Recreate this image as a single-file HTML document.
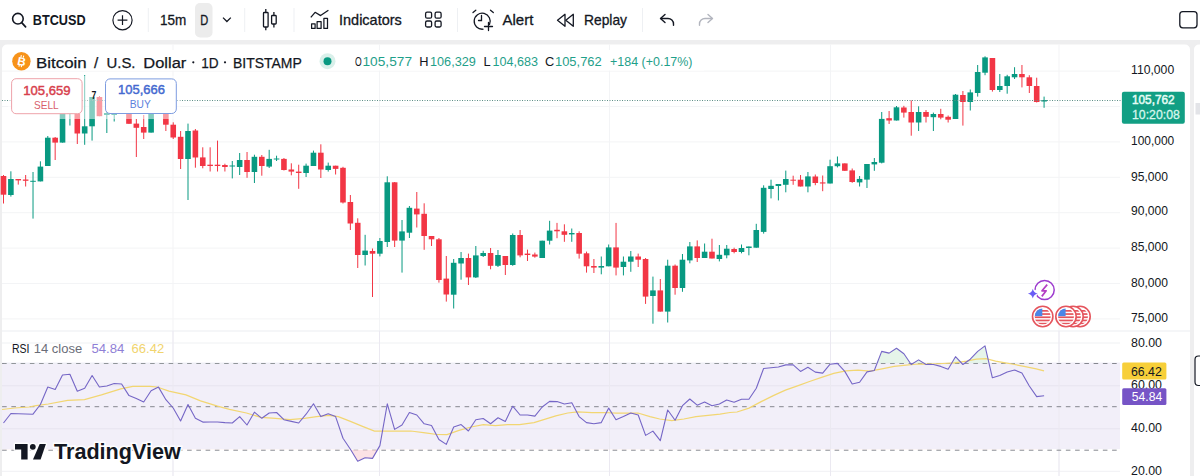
<!DOCTYPE html><html><head><meta charset="utf-8"><style>
html,body{margin:0;padding:0;width:1200px;height:476px;overflow:hidden;background:#fff}
svg{display:block;font-family:'Liberation Sans', sans-serif}
</style></head><body>
<svg width="1200" height="476" viewBox="0 0 1200 476">
<rect x="0" y="0" width="1200" height="476" fill="#eeeeef"/>
<rect x="0" y="0" width="1200" height="40" fill="#ffffff"/>
<rect x="2" y="44.5" width="1188" height="440" rx="5" fill="#ffffff"/>
<rect x="1194" y="44.5" width="20" height="440" rx="5" fill="#ffffff"/>
<circle cx="17.9" cy="18.7" r="5.3" fill="none" stroke="#131722" stroke-width="1.6"/>
<line x1="21.7" y1="22.6" x2="25.6" y2="26.8" stroke="#131722" stroke-width="1.7" stroke-linecap="round"/>
<text x="32.8" y="24.7" font-size="14.4" font-weight="bold" fill="#131722" textLength="52.8" lengthAdjust="spacingAndGlyphs" >BTCUSD</text>
<circle cx="122.5" cy="20.2" r="9.6" fill="none" stroke="#131722" stroke-width="1.15"/>
<path d="M122.5 15.3v9.8M117.6 20.2h9.8" stroke="#131722" stroke-width="1.2"/>
<rect x="147.8" y="8" width="1" height="24" fill="#eef0f3"/>
<rect x="244.2" y="8" width="1" height="24" fill="#eef0f3"/>
<rect x="293.5" y="8" width="1" height="24" fill="#eef0f3"/>
<rect x="457.0" y="8" width="1" height="24" fill="#eef0f3"/>
<rect x="642.0" y="8" width="1" height="24" fill="#eef0f3"/>
<text x="160" y="25" font-size="14.4" font-weight="normal" fill="#131722" textLength="26.3" lengthAdjust="spacingAndGlyphs" stroke="#131722" stroke-width="0.3">15m</text>
<rect x="195" y="3" width="17.5" height="34.5" rx="5" fill="#ececec"/>
<text x="200.3" y="25" font-size="14.4" font-weight="normal" fill="#131722" textLength="8.0" lengthAdjust="spacingAndGlyphs" stroke="#131722" stroke-width="0.3">D</text>
<path d="M223 17.6l3.9 3.9 3.9-3.9" fill="none" stroke="#131722" stroke-width="1.3"/>
<g fill="none" stroke="#131722" stroke-width="1.3"><rect x="263.5" y="12.5" width="4.6" height="14.5" rx="0.8"/><path d="M265.8 9v3.5M265.8 27v3.3"/><rect x="271.6" y="15.5" width="4.6" height="8.5" rx="0.8"/><path d="M273.9 12v3.5M273.9 24v3.5"/></g>
<g fill="none" stroke="#131722" stroke-width="1.25" stroke-linejoin="round"><path d="M310.8 17.4L315.1 12.3L320.6 15.6L328.4 10.3"/><path d="M311.6 28.4v-4.6h3.5v4.6zM317.1 28.4v-6.9h4v6.9zM323.9 28.4v-10.1h3.6v10.1z"/></g>
<text x="339" y="24.7" font-size="14.6" font-weight="normal" fill="#131722" textLength="62.8" lengthAdjust="spacingAndGlyphs" stroke="#131722" stroke-width="0.3">Indicators</text>
<g fill="none" stroke="#131722" stroke-width="1.3"><rect x="425.6" y="12.2" width="6" height="6" rx="1.5"/><rect x="435.1" y="12.2" width="6" height="6" rx="1.5"/><rect x="425.6" y="21" width="6" height="6" rx="1.5"/><rect x="435.1" y="21" width="6" height="6" rx="1.5"/></g>
<g fill="none" stroke="#131722" stroke-width="1.3" stroke-linecap="round"><path d="M489.5 24.5A8 8 0 1 0 483 29.2"/><path d="M481.5 15.5v5h-3"/><path d="M473 12.5l2.8-2.3M490.5 10.2l2.8 2.3"/><path d="M488.5 22.5v8M484.5 26.5h8"/></g>
<text x="502.5" y="25" font-size="14.6" font-weight="normal" fill="#131722" textLength="30.8" lengthAdjust="spacingAndGlyphs" stroke="#131722" stroke-width="0.3">Alert</text>
<g fill="none" stroke="#131722" stroke-width="1.3" stroke-linejoin="round"><path d="M565 14.3v12l-7.5-6z"/><path d="M573.3 14.3v12l-7.5-6z"/></g>
<text x="584" y="25" font-size="14.6" font-weight="normal" fill="#131722" textLength="43.0" lengthAdjust="spacingAndGlyphs" stroke="#131722" stroke-width="0.3">Replay</text>
<g fill="none" stroke-width="1.4" stroke-linecap="round" stroke-linejoin="round"><path d="M665 14.5l-4.5 4 4.5 4" stroke="#131722"/><path d="M661 18.5h7a5.5 5.5 0 0 1 5.5 5.5v1.3" stroke="#131722"/><path d="M708 14.5l4.5 4-4.5 4" stroke="#b2b5be"/><path d="M712 18.5h-7a5.5 5.5 0 0 0 -5.5 5.5v1.3" stroke="#b2b5be"/></g>
<rect x="1179.8" y="11.6" width="17.2" height="16.2" rx="3" fill="none" stroke="#131722" stroke-width="1.3"/>
<g>
<rect x="2" y="70.6" width="1118" height="1" fill="#f3f4f6"/>
<rect x="2" y="106.0" width="1118" height="1" fill="#f3f4f6"/>
<rect x="2" y="141.4" width="1118" height="1" fill="#f3f4f6"/>
<rect x="2" y="176.8" width="1118" height="1" fill="#f3f4f6"/>
<rect x="2" y="212.2" width="1118" height="1" fill="#f3f4f6"/>
<rect x="2" y="247.6" width="1118" height="1" fill="#f3f4f6"/>
<rect x="2" y="283.0" width="1118" height="1" fill="#f3f4f6"/>
<rect x="2" y="318.4" width="1118" height="1" fill="#f3f4f6"/>
<rect x="172.5" y="44.5" width="1" height="432" fill="#f3f4f6"/>
<rect x="379" y="44.5" width="1" height="432" fill="#f3f4f6"/>
<rect x="609" y="44.5" width="1" height="432" fill="#f3f4f6"/>
<rect x="830" y="44.5" width="1" height="432" fill="#f3f4f6"/>
<rect x="1058.5" y="44.5" width="1" height="432" fill="#f3f4f6"/>
<rect x="3.00" y="175.0" width="1" height="28.5" fill="#f23645"/>
<rect x="0.70" y="176.0" width="5.6" height="18.7" fill="#f23645"/>
<rect x="10.38" y="171.3" width="1" height="25.3" fill="#089981"/>
<rect x="8.08" y="179.0" width="5.6" height="16.0" fill="#089981"/>
<rect x="17.76" y="179.0" width="1" height="5.6" fill="#f23645"/>
<rect x="15.46" y="179.0" width="5.6" height="1.4" fill="#f23645"/>
<rect x="25.14" y="175.0" width="1" height="11.5" fill="#f23645"/>
<rect x="22.84" y="179.5" width="5.6" height="1.3" fill="#f23645"/>
<rect x="32.52" y="172.0" width="1" height="46.6" fill="#089981"/>
<rect x="30.22" y="180.8" width="5.6" height="1.0" fill="#089981"/>
<rect x="39.90" y="161.3" width="1" height="20.1" fill="#089981"/>
<rect x="37.60" y="166.6" width="5.6" height="14.8" fill="#089981"/>
<rect x="47.28" y="136.0" width="1" height="30.0" fill="#089981"/>
<rect x="44.98" y="137.7" width="5.6" height="28.3" fill="#089981"/>
<rect x="54.66" y="137.0" width="1" height="23.0" fill="#f23645"/>
<rect x="52.36" y="137.7" width="5.6" height="4.9" fill="#f23645"/>
<rect x="62.04" y="110.0" width="1" height="32.6" fill="#089981"/>
<rect x="59.74" y="112.0" width="5.6" height="30.6" fill="#089981"/>
<rect x="69.42" y="106.0" width="1" height="19.5" fill="#089981"/>
<rect x="67.12" y="108.0" width="5.6" height="6.0" fill="#089981"/>
<rect x="76.80" y="110.0" width="1" height="34.0" fill="#f23645"/>
<rect x="74.50" y="112.0" width="5.6" height="21.5" fill="#f23645"/>
<rect x="84.18" y="75.0" width="1" height="69.8" fill="#089981"/>
<rect x="81.88" y="126.3" width="5.6" height="7.2" fill="#089981"/>
<rect x="91.56" y="97.0" width="1" height="43.6" fill="#089981"/>
<rect x="89.26" y="97.0" width="5.6" height="29.3" fill="#089981"/>
<rect x="98.94" y="96.0" width="1" height="20.2" fill="#f23645"/>
<rect x="96.64" y="97.0" width="5.6" height="19.2" fill="#f23645"/>
<rect x="106.32" y="110.0" width="1" height="23.0" fill="#089981"/>
<rect x="104.02" y="113.0" width="5.6" height="2.0" fill="#089981"/>
<rect x="113.70" y="112.0" width="1" height="9.5" fill="#089981"/>
<rect x="111.40" y="113.0" width="5.6" height="2.0" fill="#089981"/>
<rect x="121.08" y="102.0" width="1" height="10.0" fill="#f23645"/>
<rect x="118.78" y="104.0" width="5.6" height="6.0" fill="#f23645"/>
<rect x="128.46" y="110.0" width="1" height="13.8" fill="#f23645"/>
<rect x="126.16" y="112.0" width="5.6" height="11.8" fill="#f23645"/>
<rect x="135.84" y="119.0" width="1" height="38.0" fill="#f23645"/>
<rect x="133.54" y="123.6" width="5.6" height="4.2" fill="#f23645"/>
<rect x="143.22" y="115.0" width="1" height="24.0" fill="#f23645"/>
<rect x="140.92" y="127.0" width="5.6" height="5.6" fill="#f23645"/>
<rect x="150.60" y="110.0" width="1" height="22.6" fill="#089981"/>
<rect x="148.30" y="112.0" width="5.6" height="20.6" fill="#089981"/>
<rect x="157.98" y="106.0" width="1" height="8.0" fill="#089981"/>
<rect x="155.68" y="108.0" width="5.6" height="4.0" fill="#089981"/>
<rect x="165.36" y="111.0" width="1" height="20.0" fill="#f23645"/>
<rect x="163.06" y="113.0" width="5.6" height="11.7" fill="#f23645"/>
<rect x="172.74" y="122.3" width="1" height="16.7" fill="#f23645"/>
<rect x="170.44" y="124.7" width="5.6" height="12.8" fill="#f23645"/>
<rect x="180.12" y="131.0" width="1" height="38.0" fill="#f23645"/>
<rect x="177.82" y="136.8" width="5.6" height="22.2" fill="#f23645"/>
<rect x="187.50" y="123.6" width="1" height="76.4" fill="#089981"/>
<rect x="185.20" y="131.0" width="5.6" height="28.0" fill="#089981"/>
<rect x="194.88" y="129.0" width="1" height="38.7" fill="#f23645"/>
<rect x="192.58" y="130.5" width="5.6" height="27.0" fill="#f23645"/>
<rect x="202.26" y="147.3" width="1" height="21.0" fill="#f23645"/>
<rect x="199.96" y="157.4" width="5.6" height="8.6" fill="#f23645"/>
<rect x="209.64" y="147.3" width="1" height="24.2" fill="#f23645"/>
<rect x="207.34" y="164.7" width="5.6" height="1.3" fill="#f23645"/>
<rect x="217.02" y="140.6" width="1" height="30.9" fill="#f23645"/>
<rect x="214.72" y="164.7" width="5.6" height="1.3" fill="#f23645"/>
<rect x="224.40" y="163.7" width="1" height="7.8" fill="#f23645"/>
<rect x="222.10" y="165.0" width="5.6" height="2.0" fill="#f23645"/>
<rect x="231.78" y="161.0" width="1" height="17.4" fill="#089981"/>
<rect x="229.48" y="165.5" width="5.6" height="1.0" fill="#089981"/>
<rect x="239.16" y="153.0" width="1" height="22.0" fill="#089981"/>
<rect x="236.86" y="160.0" width="5.6" height="7.0" fill="#089981"/>
<rect x="246.54" y="152.0" width="1" height="25.8" fill="#f23645"/>
<rect x="244.24" y="160.0" width="5.6" height="12.0" fill="#f23645"/>
<rect x="253.92" y="154.7" width="1" height="28.3" fill="#089981"/>
<rect x="251.62" y="156.8" width="5.6" height="15.2" fill="#089981"/>
<rect x="261.30" y="155.0" width="1" height="20.7" fill="#f23645"/>
<rect x="259.00" y="156.8" width="5.6" height="9.2" fill="#f23645"/>
<rect x="268.68" y="149.8" width="1" height="18.2" fill="#089981"/>
<rect x="266.38" y="158.9" width="5.6" height="7.7" fill="#089981"/>
<rect x="276.06" y="155.7" width="1" height="5.3" fill="#089981"/>
<rect x="273.76" y="158.5" width="5.6" height="1.0" fill="#089981"/>
<rect x="283.44" y="158.0" width="1" height="12.5" fill="#f23645"/>
<rect x="281.14" y="158.9" width="5.6" height="11.1" fill="#f23645"/>
<rect x="290.82" y="163.3" width="1" height="12.0" fill="#f23645"/>
<rect x="288.52" y="169.5" width="5.6" height="2.1" fill="#f23645"/>
<rect x="298.20" y="164.7" width="1" height="24.1" fill="#f23645"/>
<rect x="295.90" y="171.6" width="5.6" height="1.4" fill="#f23645"/>
<rect x="305.58" y="163.6" width="1" height="13.4" fill="#089981"/>
<rect x="303.28" y="165.7" width="5.6" height="7.3" fill="#089981"/>
<rect x="312.96" y="150.6" width="1" height="15.4" fill="#089981"/>
<rect x="310.66" y="152.7" width="5.6" height="13.3" fill="#089981"/>
<rect x="320.34" y="144.3" width="1" height="33.7" fill="#f23645"/>
<rect x="318.04" y="152.7" width="5.6" height="16.8" fill="#f23645"/>
<rect x="327.72" y="162.6" width="1" height="9.0" fill="#089981"/>
<rect x="325.42" y="165.7" width="5.6" height="4.3" fill="#089981"/>
<rect x="335.10" y="165.7" width="1" height="8.8" fill="#f23645"/>
<rect x="332.80" y="165.7" width="5.6" height="3.2" fill="#f23645"/>
<rect x="342.48" y="166.8" width="1" height="36.7" fill="#f23645"/>
<rect x="340.18" y="167.8" width="5.6" height="34.7" fill="#f23645"/>
<rect x="349.86" y="195.0" width="1" height="35.0" fill="#f23645"/>
<rect x="347.56" y="202.0" width="5.6" height="21.5" fill="#f23645"/>
<rect x="357.24" y="218.3" width="1" height="49.7" fill="#f23645"/>
<rect x="354.94" y="222.8" width="5.6" height="32.2" fill="#f23645"/>
<rect x="364.62" y="234.8" width="1" height="30.7" fill="#089981"/>
<rect x="362.32" y="250.6" width="5.6" height="4.4" fill="#089981"/>
<rect x="372.00" y="248.5" width="1" height="48.5" fill="#f23645"/>
<rect x="369.70" y="251.0" width="5.6" height="2.7" fill="#f23645"/>
<rect x="379.38" y="238.0" width="1" height="18.4" fill="#089981"/>
<rect x="377.08" y="241.0" width="5.6" height="12.7" fill="#089981"/>
<rect x="386.76" y="176.3" width="1" height="70.7" fill="#089981"/>
<rect x="384.46" y="182.3" width="5.6" height="59.7" fill="#089981"/>
<rect x="394.14" y="182.0" width="1" height="65.0" fill="#f23645"/>
<rect x="391.84" y="182.3" width="5.6" height="58.3" fill="#f23645"/>
<rect x="401.52" y="220.0" width="1" height="52.6" fill="#089981"/>
<rect x="399.22" y="231.4" width="5.6" height="9.2" fill="#089981"/>
<rect x="408.90" y="206.0" width="1" height="32.0" fill="#089981"/>
<rect x="406.60" y="207.8" width="5.6" height="24.9" fill="#089981"/>
<rect x="416.28" y="192.0" width="1" height="35.5" fill="#f23645"/>
<rect x="413.98" y="208.6" width="5.6" height="5.8" fill="#f23645"/>
<rect x="423.66" y="203.3" width="1" height="46.5" fill="#f23645"/>
<rect x="421.36" y="213.8" width="5.6" height="22.2" fill="#f23645"/>
<rect x="431.04" y="236.0" width="1" height="10.0" fill="#f23645"/>
<rect x="428.74" y="236.0" width="5.6" height="3.3" fill="#f23645"/>
<rect x="438.42" y="238.0" width="1" height="44.6" fill="#f23645"/>
<rect x="436.12" y="239.3" width="5.6" height="40.7" fill="#f23645"/>
<rect x="445.80" y="256.0" width="1" height="45.6" fill="#f23645"/>
<rect x="443.50" y="278.6" width="5.6" height="15.9" fill="#f23645"/>
<rect x="453.18" y="259.0" width="1" height="49.5" fill="#089981"/>
<rect x="450.88" y="262.8" width="5.6" height="31.9" fill="#089981"/>
<rect x="460.56" y="252.0" width="1" height="27.7" fill="#089981"/>
<rect x="458.26" y="258.0" width="5.6" height="5.5" fill="#089981"/>
<rect x="467.94" y="253.6" width="1" height="31.4" fill="#f23645"/>
<rect x="465.64" y="258.0" width="5.6" height="19.4" fill="#f23645"/>
<rect x="475.32" y="246.0" width="1" height="32.0" fill="#089981"/>
<rect x="473.02" y="255.4" width="5.6" height="22.0" fill="#089981"/>
<rect x="482.70" y="250.8" width="1" height="6.2" fill="#089981"/>
<rect x="480.40" y="253.0" width="5.6" height="3.0" fill="#089981"/>
<rect x="490.08" y="248.0" width="1" height="21.3" fill="#f23645"/>
<rect x="487.78" y="253.0" width="5.6" height="12.8" fill="#f23645"/>
<rect x="497.46" y="250.0" width="1" height="17.0" fill="#089981"/>
<rect x="495.16" y="255.0" width="5.6" height="10.8" fill="#089981"/>
<rect x="504.84" y="256.0" width="1" height="19.0" fill="#f23645"/>
<rect x="502.54" y="256.0" width="5.6" height="9.0" fill="#f23645"/>
<rect x="512.22" y="233.5" width="1" height="32.3" fill="#089981"/>
<rect x="509.92" y="235.0" width="5.6" height="30.0" fill="#089981"/>
<rect x="519.60" y="230.0" width="1" height="27.3" fill="#f23645"/>
<rect x="517.30" y="235.0" width="5.6" height="20.4" fill="#f23645"/>
<rect x="526.98" y="249.6" width="1" height="11.4" fill="#f23645"/>
<rect x="524.68" y="253.6" width="5.6" height="1.4" fill="#f23645"/>
<rect x="534.36" y="252.6" width="1" height="5.1" fill="#f23645"/>
<rect x="532.06" y="254.5" width="5.6" height="2.1" fill="#f23645"/>
<rect x="541.74" y="240.7" width="1" height="17.3" fill="#089981"/>
<rect x="539.44" y="240.7" width="5.6" height="17.3" fill="#089981"/>
<rect x="549.12" y="220.8" width="1" height="23.7" fill="#089981"/>
<rect x="546.82" y="230.6" width="5.6" height="10.1" fill="#089981"/>
<rect x="556.50" y="222.9" width="1" height="15.3" fill="#f23645"/>
<rect x="554.20" y="229.8" width="5.6" height="1.5" fill="#f23645"/>
<rect x="563.88" y="224.3" width="1" height="17.5" fill="#f23645"/>
<rect x="561.58" y="231.3" width="5.6" height="3.5" fill="#f23645"/>
<rect x="571.26" y="228.5" width="1" height="13.3" fill="#089981"/>
<rect x="568.96" y="233.0" width="5.6" height="1.4" fill="#089981"/>
<rect x="578.64" y="231.3" width="1" height="27.3" fill="#f23645"/>
<rect x="576.34" y="233.0" width="5.6" height="20.7" fill="#f23645"/>
<rect x="586.02" y="251.6" width="1" height="21.0" fill="#f23645"/>
<rect x="583.72" y="253.3" width="5.6" height="13.0" fill="#f23645"/>
<rect x="593.40" y="259.0" width="1" height="14.0" fill="#f23645"/>
<rect x="591.10" y="266.0" width="5.6" height="1.6" fill="#f23645"/>
<rect x="600.78" y="256.5" width="1" height="17.8" fill="#089981"/>
<rect x="598.48" y="266.0" width="5.6" height="1.6" fill="#089981"/>
<rect x="608.16" y="244.5" width="1" height="21.8" fill="#089981"/>
<rect x="605.86" y="247.4" width="5.6" height="18.9" fill="#089981"/>
<rect x="615.54" y="222.9" width="1" height="52.5" fill="#f23645"/>
<rect x="613.24" y="247.4" width="5.6" height="20.2" fill="#f23645"/>
<rect x="622.92" y="256.5" width="1" height="18.9" fill="#089981"/>
<rect x="620.62" y="261.7" width="5.6" height="5.3" fill="#089981"/>
<rect x="630.30" y="251.0" width="1" height="20.8" fill="#089981"/>
<rect x="628.00" y="256.5" width="5.6" height="5.2" fill="#089981"/>
<rect x="637.68" y="253.6" width="1" height="13.4" fill="#f23645"/>
<rect x="635.38" y="256.5" width="5.6" height="3.2" fill="#f23645"/>
<rect x="645.06" y="258.0" width="1" height="45.9" fill="#f23645"/>
<rect x="642.76" y="259.0" width="5.6" height="37.6" fill="#f23645"/>
<rect x="652.44" y="276.6" width="1" height="47.1" fill="#089981"/>
<rect x="650.14" y="290.4" width="5.6" height="5.6" fill="#089981"/>
<rect x="659.82" y="279.0" width="1" height="32.6" fill="#f23645"/>
<rect x="657.52" y="290.4" width="5.6" height="21.2" fill="#f23645"/>
<rect x="667.20" y="259.7" width="1" height="62.8" fill="#089981"/>
<rect x="664.90" y="265.7" width="5.6" height="45.9" fill="#089981"/>
<rect x="674.58" y="264.5" width="1" height="30.2" fill="#f23645"/>
<rect x="672.28" y="265.7" width="5.6" height="22.3" fill="#f23645"/>
<rect x="681.96" y="254.0" width="1" height="37.8" fill="#089981"/>
<rect x="679.66" y="259.7" width="5.6" height="28.3" fill="#089981"/>
<rect x="689.34" y="242.0" width="1" height="21.3" fill="#089981"/>
<rect x="687.04" y="246.4" width="5.6" height="14.0" fill="#089981"/>
<rect x="696.72" y="240.4" width="1" height="21.6" fill="#f23645"/>
<rect x="694.42" y="246.4" width="5.6" height="11.6" fill="#f23645"/>
<rect x="704.10" y="243.5" width="1" height="14.5" fill="#089981"/>
<rect x="701.80" y="251.7" width="5.6" height="6.3" fill="#089981"/>
<rect x="711.48" y="238.7" width="1" height="19.8" fill="#f23645"/>
<rect x="709.18" y="251.7" width="5.6" height="6.8" fill="#f23645"/>
<rect x="718.86" y="245.0" width="1" height="16.4" fill="#089981"/>
<rect x="716.56" y="254.8" width="5.6" height="4.2" fill="#089981"/>
<rect x="726.24" y="245.0" width="1" height="13.3" fill="#089981"/>
<rect x="723.94" y="248.7" width="5.6" height="6.6" fill="#089981"/>
<rect x="733.62" y="247.7" width="1" height="5.6" fill="#f23645"/>
<rect x="731.32" y="249.0" width="5.6" height="3.0" fill="#f23645"/>
<rect x="741.00" y="244.5" width="1" height="8.8" fill="#089981"/>
<rect x="738.70" y="248.0" width="5.6" height="4.0" fill="#089981"/>
<rect x="748.38" y="246.5" width="1" height="8.8" fill="#089981"/>
<rect x="746.08" y="246.5" width="5.6" height="1.5" fill="#089981"/>
<rect x="755.76" y="223.8" width="1" height="23.9" fill="#089981"/>
<rect x="753.46" y="230.0" width="5.6" height="17.7" fill="#089981"/>
<rect x="763.14" y="185.3" width="1" height="48.3" fill="#089981"/>
<rect x="760.84" y="187.8" width="5.6" height="44.1" fill="#089981"/>
<rect x="770.52" y="179.7" width="1" height="18.7" fill="#089981"/>
<rect x="768.22" y="185.8" width="5.6" height="3.2" fill="#089981"/>
<rect x="777.90" y="184.0" width="1" height="16.4" fill="#089981"/>
<rect x="775.60" y="184.0" width="5.6" height="2.0" fill="#089981"/>
<rect x="785.28" y="170.6" width="1" height="21.7" fill="#089981"/>
<rect x="782.98" y="179.0" width="5.6" height="5.8" fill="#089981"/>
<rect x="792.66" y="175.7" width="1" height="9.1" fill="#f23645"/>
<rect x="790.36" y="179.7" width="5.6" height="1.0" fill="#f23645"/>
<rect x="800.04" y="175.0" width="1" height="11.5" fill="#f23645"/>
<rect x="797.74" y="179.7" width="5.6" height="6.8" fill="#f23645"/>
<rect x="807.42" y="172.0" width="1" height="20.3" fill="#089981"/>
<rect x="805.12" y="176.4" width="5.6" height="10.1" fill="#089981"/>
<rect x="814.80" y="174.5" width="1" height="10.7" fill="#f23645"/>
<rect x="812.50" y="176.5" width="5.6" height="6.5" fill="#f23645"/>
<rect x="822.18" y="175.5" width="1" height="15.7" fill="#f23645"/>
<rect x="819.88" y="182.4" width="5.6" height="1.1" fill="#f23645"/>
<rect x="829.56" y="159.7" width="1" height="23.8" fill="#089981"/>
<rect x="827.26" y="166.2" width="5.6" height="17.3" fill="#089981"/>
<rect x="836.94" y="156.5" width="1" height="10.9" fill="#089981"/>
<rect x="834.64" y="163.4" width="5.6" height="2.8" fill="#089981"/>
<rect x="844.32" y="163.4" width="1" height="7.6" fill="#f23645"/>
<rect x="842.02" y="163.4" width="5.6" height="7.4" fill="#f23645"/>
<rect x="851.70" y="168.5" width="1" height="14.3" fill="#f23645"/>
<rect x="849.40" y="170.4" width="5.6" height="11.6" fill="#f23645"/>
<rect x="859.08" y="176.0" width="1" height="10.5" fill="#089981"/>
<rect x="856.78" y="178.9" width="5.6" height="3.5" fill="#089981"/>
<rect x="866.46" y="164.0" width="1" height="24.0" fill="#089981"/>
<rect x="864.16" y="164.0" width="5.6" height="15.6" fill="#089981"/>
<rect x="873.84" y="158.0" width="1" height="12.8" fill="#089981"/>
<rect x="871.54" y="162.0" width="5.6" height="2.4" fill="#089981"/>
<rect x="881.22" y="112.0" width="1" height="51.4" fill="#089981"/>
<rect x="878.92" y="118.9" width="5.6" height="43.8" fill="#089981"/>
<rect x="888.60" y="111.0" width="1" height="13.0" fill="#f23645"/>
<rect x="886.30" y="118.2" width="5.6" height="2.3" fill="#f23645"/>
<rect x="895.98" y="106.0" width="1" height="14.5" fill="#089981"/>
<rect x="893.68" y="107.3" width="5.6" height="13.2" fill="#089981"/>
<rect x="903.36" y="105.8" width="1" height="11.8" fill="#f23645"/>
<rect x="901.06" y="107.5" width="5.6" height="5.1" fill="#f23645"/>
<rect x="910.74" y="100.4" width="1" height="35.3" fill="#f23645"/>
<rect x="908.44" y="112.0" width="5.6" height="10.5" fill="#f23645"/>
<rect x="918.12" y="106.3" width="1" height="24.7" fill="#089981"/>
<rect x="915.82" y="112.0" width="5.6" height="10.5" fill="#089981"/>
<rect x="925.50" y="110.0" width="1" height="12.5" fill="#f23645"/>
<rect x="923.20" y="112.0" width="5.6" height="4.8" fill="#f23645"/>
<rect x="932.88" y="112.6" width="1" height="18.4" fill="#089981"/>
<rect x="930.58" y="114.0" width="5.6" height="3.2" fill="#089981"/>
<rect x="940.26" y="108.8" width="1" height="10.5" fill="#f23645"/>
<rect x="937.96" y="114.0" width="5.6" height="3.6" fill="#f23645"/>
<rect x="947.64" y="115.5" width="1" height="7.0" fill="#f23645"/>
<rect x="945.34" y="116.8" width="5.6" height="2.9" fill="#f23645"/>
<rect x="955.02" y="94.0" width="1" height="25.0" fill="#089981"/>
<rect x="952.72" y="94.7" width="5.6" height="24.3" fill="#089981"/>
<rect x="962.40" y="91.0" width="1" height="34.6" fill="#f23645"/>
<rect x="960.10" y="95.0" width="5.6" height="7.0" fill="#f23645"/>
<rect x="969.78" y="89.5" width="1" height="21.0" fill="#089981"/>
<rect x="967.48" y="92.4" width="5.6" height="9.6" fill="#089981"/>
<rect x="977.16" y="65.0" width="1" height="31.6" fill="#089981"/>
<rect x="974.86" y="72.0" width="5.6" height="21.0" fill="#089981"/>
<rect x="984.54" y="56.3" width="1" height="18.9" fill="#089981"/>
<rect x="982.24" y="57.4" width="5.6" height="15.3" fill="#089981"/>
<rect x="991.92" y="58.0" width="1" height="33.6" fill="#f23645"/>
<rect x="989.62" y="58.0" width="5.6" height="32.0" fill="#f23645"/>
<rect x="999.30" y="74.0" width="1" height="18.0" fill="#089981"/>
<rect x="997.00" y="86.0" width="5.6" height="4.0" fill="#089981"/>
<rect x="1006.68" y="74.8" width="1" height="18.9" fill="#089981"/>
<rect x="1004.38" y="76.3" width="5.6" height="9.7" fill="#089981"/>
<rect x="1014.06" y="67.2" width="1" height="11.8" fill="#089981"/>
<rect x="1011.76" y="74.0" width="5.6" height="3.3" fill="#089981"/>
<rect x="1021.44" y="65.0" width="1" height="22.4" fill="#f23645"/>
<rect x="1019.14" y="74.0" width="5.6" height="3.3" fill="#f23645"/>
<rect x="1028.82" y="75.2" width="1" height="17.8" fill="#f23645"/>
<rect x="1026.52" y="77.3" width="5.6" height="8.7" fill="#f23645"/>
<rect x="1036.20" y="77.7" width="1" height="24.8" fill="#f23645"/>
<rect x="1033.90" y="86.0" width="5.6" height="16.0" fill="#f23645"/>
<rect x="1043.58" y="96.6" width="1" height="11.2" fill="#089981"/>
<rect x="1041.28" y="100.0" width="5.6" height="1.5" fill="#089981"/>
<line x1="2" y1="100.5" x2="1122" y2="100.5" stroke="#5d8f86" stroke-width="1" stroke-dasharray="1 1.5"/>
</g>
<circle cx="1044.6" cy="290" r="9.6" fill="#ffffff" stroke="#9d3ccf" stroke-width="1.5"/>
<path d="M1047.2 284.6l-5.2 6.2h4.2l-4.4 5.6" fill="none" stroke="#b43fc4" stroke-width="1.7" stroke-linejoin="round"/>
<circle cx="1033.2" cy="293.5" r="4" fill="#ffffff"/>
<path d="M1032.8 288.8q0.8 4.1 4.9 4.9q-4.1 0.8-4.9 4.9q-0.8-4.1-4.9-4.9q4.1-0.8 4.9-4.9z" fill="#6a5cf5"/>
<clipPath id="fc1080"><circle cx="1080" cy="316.5" r="7.999999999999999"/></clipPath><circle cx="1080" cy="316.5" r="10.2" fill="#ffffff" stroke="#e5555d" stroke-width="1.6"/><g clip-path="url(#fc1080)"><rect x="1071" y="310.0" width="18" height="1.7" fill="#e5555d"/><rect x="1071" y="313.2" width="18" height="1.7" fill="#e5555d"/><rect x="1071" y="316.4" width="18" height="1.7" fill="#e5555d"/><rect x="1071" y="319.6" width="18" height="1.7" fill="#e5555d"/><rect x="1071" y="322.8" width="18" height="1.7" fill="#e5555d"/><rect x="1071" y="307.5" width="8.6" height="8.6" fill="#4a86e8"/></g>
<clipPath id="fc1073"><circle cx="1073" cy="316.5" r="7.999999999999999"/></clipPath><circle cx="1073" cy="316.5" r="10.2" fill="#ffffff" stroke="#e5555d" stroke-width="1.6"/><g clip-path="url(#fc1073)"><rect x="1064" y="310.0" width="18" height="1.7" fill="#e5555d"/><rect x="1064" y="313.2" width="18" height="1.7" fill="#e5555d"/><rect x="1064" y="316.4" width="18" height="1.7" fill="#e5555d"/><rect x="1064" y="319.6" width="18" height="1.7" fill="#e5555d"/><rect x="1064" y="322.8" width="18" height="1.7" fill="#e5555d"/><rect x="1064" y="307.5" width="8.6" height="8.6" fill="#4a86e8"/></g>
<clipPath id="fc1066"><circle cx="1066" cy="316.5" r="7.999999999999999"/></clipPath><circle cx="1066" cy="316.5" r="10.2" fill="#ffffff" stroke="#e5555d" stroke-width="1.6"/><g clip-path="url(#fc1066)"><rect x="1057" y="310.0" width="18" height="1.7" fill="#e5555d"/><rect x="1057" y="313.2" width="18" height="1.7" fill="#e5555d"/><rect x="1057" y="316.4" width="18" height="1.7" fill="#e5555d"/><rect x="1057" y="319.6" width="18" height="1.7" fill="#e5555d"/><rect x="1057" y="322.8" width="18" height="1.7" fill="#e5555d"/><rect x="1057" y="307.5" width="8.6" height="8.6" fill="#4a86e8"/></g>
<clipPath id="fc1042"><circle cx="1042.7" cy="316.5" r="7.999999999999999"/></clipPath><circle cx="1042.7" cy="316.5" r="10.2" fill="#ffffff" stroke="#e5555d" stroke-width="1.6"/><g clip-path="url(#fc1042)"><rect x="1033.7" y="310.0" width="18" height="1.7" fill="#e5555d"/><rect x="1033.7" y="313.2" width="18" height="1.7" fill="#e5555d"/><rect x="1033.7" y="316.4" width="18" height="1.7" fill="#e5555d"/><rect x="1033.7" y="319.6" width="18" height="1.7" fill="#e5555d"/><rect x="1033.7" y="322.8" width="18" height="1.7" fill="#e5555d"/><rect x="1033.7" y="307.5" width="8.6" height="8.6" fill="#4a86e8"/></g>
<circle cx="21.4" cy="61.2" r="9.2" fill="#f7931a"/>
<g transform="rotate(12 21.4 61.2)"><text x="21.6" y="65.3" font-size="11.5" font-weight="bold" fill="#fff" text-anchor="middle">B</text><path d="M20.1 55.2v2M22.5 55.2v2M20.1 65v2M22.5 65v2" stroke="#fff" stroke-width="1.1"/></g>
<rect x="34" y="50" width="670" height="20.5" fill="#ffffff"/>
<text x="94" y="67.5" font-size="15.3" font-weight="normal" fill="#131722" stroke="#131722" stroke-width="0.25">/</text>
<text x="36" y="67.5" font-size="15.3" font-weight="normal" fill="#131722" textLength="50.7" lengthAdjust="spacingAndGlyphs" stroke="#131722" stroke-width="0.25">Bitcoin</text>
<text x="106.5" y="67.5" font-size="15.3" font-weight="normal" fill="#131722" textLength="29.0" lengthAdjust="spacingAndGlyphs" stroke="#131722" stroke-width="0.25">U.S.</text>
<text x="143.3" y="67.5" font-size="15.3" font-weight="normal" fill="#131722" textLength="43.0" lengthAdjust="spacingAndGlyphs" stroke="#131722" stroke-width="0.25">Dollar</text>
<text x="201.3" y="67.5" font-size="15.3" font-weight="normal" fill="#131722" textLength="17.4" lengthAdjust="spacingAndGlyphs" stroke="#131722" stroke-width="0.25">1D</text>
<text x="233" y="67.5" font-size="15.3" font-weight="normal" fill="#131722" textLength="68.7" lengthAdjust="spacingAndGlyphs" stroke="#131722" stroke-width="0.25">BITSTAMP</text>
<circle cx="193.3" cy="62.3" r="1.1" fill="#131722"/>
<circle cx="225" cy="62.3" r="1.1" fill="#131722"/>
<circle cx="327.5" cy="61.2" r="8" fill="#d9f0ea"/>
<circle cx="327.5" cy="61.2" r="4" fill="#089981"/>
<text x="355" y="66.3" font-size="12.8" font-weight="normal" fill="#131722" textLength="6.7" lengthAdjust="spacingAndGlyphs" >O</text>
<text x="362.5" y="66.3" font-size="12.8" font-weight="normal" fill="#1fa08a" textLength="49.5" lengthAdjust="spacingAndGlyphs" >105,577</text>
<text x="419.2" y="66.3" font-size="12.8" font-weight="normal" fill="#131722" >H</text>
<text x="430" y="66.3" font-size="12.8" font-weight="normal" fill="#1fa08a" textLength="45.8" lengthAdjust="spacingAndGlyphs" >106,329</text>
<text x="483.5" y="66.3" font-size="12.8" font-weight="normal" fill="#131722" >L</text>
<text x="492.5" y="66.3" font-size="12.8" font-weight="normal" fill="#1fa08a" textLength="45.5" lengthAdjust="spacingAndGlyphs" >104,683</text>
<text x="545" y="66.3" font-size="12.8" font-weight="normal" fill="#131722" >C</text>
<text x="555" y="66.3" font-size="12.8" font-weight="normal" fill="#1fa08a" textLength="46.7" lengthAdjust="spacingAndGlyphs" >105,762</text>
<text x="610" y="66.3" font-size="12.8" font-weight="normal" fill="#1fa08a" textLength="82.5" lengthAdjust="spacingAndGlyphs" >+184 (+0.17%)</text>
<rect x="8" y="76" width="172" height="43" fill="#ffffff" fill-opacity="0.5"/>
<rect x="11.6" y="78.7" width="70.5" height="35" rx="4.5" fill="#fff" stroke="#eea3aa" stroke-width="1"/>
<text x="23.3" y="94.6" font-size="13" font-weight="normal" fill="#d7404c" textLength="47.3" lengthAdjust="spacingAndGlyphs" stroke="#d7404c" stroke-width="0.45">105,659</text>
<text x="34" y="108.5" font-size="11.8" font-weight="normal" fill="#d8606b" textLength="24.6" lengthAdjust="spacingAndGlyphs" >SELL</text>
<rect x="105.5" y="78.9" width="70.8" height="34.6" rx="4.5" fill="#fff" stroke="#7d9ce0" stroke-width="1"/>
<text x="118" y="94" font-size="13" font-weight="normal" fill="#4469d0" textLength="47.0" lengthAdjust="spacingAndGlyphs" stroke="#4469d0" stroke-width="0.45">105,666</text>
<text x="129.7" y="107.8" font-size="11.8" font-weight="normal" fill="#5b7fdc" textLength="21.1" lengthAdjust="spacingAndGlyphs" >BUY</text>
<text x="91.4" y="98.6" font-size="11" font-weight="bold" fill="#131722" textLength="4.8" lengthAdjust="spacingAndGlyphs" >7</text>
<text x="1131" y="74.1" font-size="12.8" font-weight="normal" fill="#131722" textLength="43.2" lengthAdjust="spacingAndGlyphs" >110,000</text>
<text x="1131" y="145.0" font-size="12.8" font-weight="normal" fill="#131722" textLength="43.2" lengthAdjust="spacingAndGlyphs" >100,000</text>
<text x="1131" y="180.7" font-size="12.8" font-weight="normal" fill="#131722" textLength="37.0" lengthAdjust="spacingAndGlyphs" >95,000</text>
<text x="1131" y="215.2" font-size="12.8" font-weight="normal" fill="#131722" textLength="37.0" lengthAdjust="spacingAndGlyphs" >90,000</text>
<text x="1131" y="251.3" font-size="12.8" font-weight="normal" fill="#131722" textLength="37.0" lengthAdjust="spacingAndGlyphs" >85,000</text>
<text x="1131" y="286.5" font-size="12.8" font-weight="normal" fill="#131722" textLength="37.0" lengthAdjust="spacingAndGlyphs" >80,000</text>
<text x="1131" y="321.5" font-size="12.8" font-weight="normal" fill="#131722" textLength="37.0" lengthAdjust="spacingAndGlyphs" >75,000</text>
<rect x="1121.9" y="91.8" width="62.9" height="32" rx="2" fill="#129f84"/>
<text x="1132" y="104.1" font-size="13" font-weight="normal" fill="#e4fcf5" textLength="42.6" lengthAdjust="spacingAndGlyphs" stroke="#e4fcf5" stroke-width="0.55">105,762</text>
<text x="1132" y="118.6" font-size="13" font-weight="normal" fill="#d9f7ee" textLength="47.8" lengthAdjust="spacingAndGlyphs" stroke="#d9f7ee" stroke-width="0.3">10:20:08</text>
<rect x="1195.5" y="103" width="6" height="11.5" fill="#e3e4e8"/>
<rect x="1195" y="356" width="12" height="29.5" rx="3.5" fill="none" stroke="#131722" stroke-width="1.2"/>
<rect x="2" y="330.5" width="1188" height="1" fill="#eceef2"/>
<rect x="2" y="362.5" width="1118" height="86.5" fill="#f2eff9"/>
<rect x="2" y="342.5" width="1118" height="1" fill="#f0f1f4"/>
<rect x="2" y="470.8" width="1118" height="1" fill="#f0f1f4"/>
<rect x="2" y="385.3" width="1118" height="1" fill="#e7e4ef"/>
<rect x="2" y="428.3" width="1118" height="1" fill="#e7e4ef"/>
<rect x="172.5" y="331" width="1" height="145" fill="#ebe9f1"/>
<rect x="379" y="331" width="1" height="145" fill="#ebe9f1"/>
<rect x="609" y="331" width="1" height="145" fill="#ebe9f1"/>
<rect x="830" y="331" width="1" height="145" fill="#ebe9f1"/>
<rect x="1058.5" y="331" width="1" height="145" fill="#ebe9f1"/>
<line x1="2.1" y1="363.5" x2="1120" y2="363.5" stroke="#85878f" stroke-width="1" stroke-dasharray="4.6 4.65"/>
<line x1="2.1" y1="406.7" x2="1120" y2="406.7" stroke="#85878f" stroke-width="1" stroke-dasharray="4.6 4.65"/>
<line x1="2.1" y1="450.2" x2="1120" y2="450.2" stroke="#85878f" stroke-width="1" stroke-dasharray="4.6 4.65"/>
<clipPath id="cob"><rect x="0" y="331" width="1200" height="32.5"/></clipPath>
<polygon points="3.5,363.5 3.5,423.0 10.9,413.5 18.3,413.7 25.6,414.0 33.0,414.2 40.4,404.5 47.8,387.0 55.2,389.5 62.5,375.0 69.9,374.3 77.3,391.2 84.7,388.3 92.1,375.5 99.4,387.0 106.8,386.0 114.2,383.5 121.6,384.0 129.0,395.6 136.3,398.5 143.7,402.0 151.1,390.7 158.5,387.1 165.9,399.7 173.2,408.0 180.6,421.0 188.0,404.5 195.4,418.3 202.8,422.1 210.1,422.0 217.5,422.0 224.9,422.6 232.3,423.0 239.7,416.6 247.0,425.0 254.4,412.2 261.8,418.3 269.2,413.0 276.6,412.5 283.9,419.7 291.3,421.4 298.7,423.0 306.1,414.2 313.5,403.8 320.8,416.6 328.2,413.7 335.6,416.6 343.0,438.3 350.4,449.2 357.7,461.3 365.1,457.7 372.5,458.4 379.9,445.6 387.3,403.8 394.6,429.4 402.0,425.0 409.4,412.5 416.8,415.0 424.2,423.8 431.5,425.5 438.9,439.5 446.3,444.4 453.7,427.0 461.1,424.6 468.4,431.0 475.8,419.7 483.2,418.5 490.6,423.8 498.0,417.8 505.3,421.4 512.7,406.2 520.1,415.0 527.5,415.0 534.9,416.1 542.2,407.0 549.6,401.4 557.0,401.6 564.4,404.0 571.8,402.8 579.1,416.6 586.5,422.6 593.9,423.8 601.3,422.6 608.7,408.1 616.0,419.7 623.4,416.6 630.8,413.0 638.2,415.0 645.6,435.4 652.9,431.1 660.3,440.7 667.7,410.0 675.1,420.2 682.5,405.7 689.8,399.0 697.2,405.2 704.6,402.1 712.0,405.7 719.4,404.0 726.7,400.0 734.1,402.3 741.5,399.2 748.9,399.2 756.3,388.3 763.6,368.5 771.0,367.8 778.4,367.0 785.8,364.9 793.2,364.9 800.5,371.4 807.9,367.3 815.3,372.1 822.7,373.1 830.1,364.2 837.4,363.4 844.8,371.4 852.2,384.0 859.6,382.3 867.0,371.9 874.3,370.5 881.7,351.4 889.1,353.1 896.5,348.3 903.9,353.8 911.2,364.5 918.6,359.9 926.0,364.5 933.4,364.5 940.8,366.4 948.1,369.3 955.5,356.7 962.9,364.5 970.3,359.2 977.7,351.4 985.0,345.9 992.4,377.8 999.8,375.5 1007.2,372.0 1014.6,370.0 1021.9,373.0 1029.3,386.0 1036.7,396.6 1044.1,395.8 1044.1,363.5" fill="#d6efdc" fill-opacity="0.6" clip-path="url(#cob)"/>
<clipPath id="cos"><rect x="0" y="449.5" width="1200" height="30"/></clipPath>
<polygon points="3.5,449.5 3.5,423.0 10.9,413.5 18.3,413.7 25.6,414.0 33.0,414.2 40.4,404.5 47.8,387.0 55.2,389.5 62.5,375.0 69.9,374.3 77.3,391.2 84.7,388.3 92.1,375.5 99.4,387.0 106.8,386.0 114.2,383.5 121.6,384.0 129.0,395.6 136.3,398.5 143.7,402.0 151.1,390.7 158.5,387.1 165.9,399.7 173.2,408.0 180.6,421.0 188.0,404.5 195.4,418.3 202.8,422.1 210.1,422.0 217.5,422.0 224.9,422.6 232.3,423.0 239.7,416.6 247.0,425.0 254.4,412.2 261.8,418.3 269.2,413.0 276.6,412.5 283.9,419.7 291.3,421.4 298.7,423.0 306.1,414.2 313.5,403.8 320.8,416.6 328.2,413.7 335.6,416.6 343.0,438.3 350.4,449.2 357.7,461.3 365.1,457.7 372.5,458.4 379.9,445.6 387.3,403.8 394.6,429.4 402.0,425.0 409.4,412.5 416.8,415.0 424.2,423.8 431.5,425.5 438.9,439.5 446.3,444.4 453.7,427.0 461.1,424.6 468.4,431.0 475.8,419.7 483.2,418.5 490.6,423.8 498.0,417.8 505.3,421.4 512.7,406.2 520.1,415.0 527.5,415.0 534.9,416.1 542.2,407.0 549.6,401.4 557.0,401.6 564.4,404.0 571.8,402.8 579.1,416.6 586.5,422.6 593.9,423.8 601.3,422.6 608.7,408.1 616.0,419.7 623.4,416.6 630.8,413.0 638.2,415.0 645.6,435.4 652.9,431.1 660.3,440.7 667.7,410.0 675.1,420.2 682.5,405.7 689.8,399.0 697.2,405.2 704.6,402.1 712.0,405.7 719.4,404.0 726.7,400.0 734.1,402.3 741.5,399.2 748.9,399.2 756.3,388.3 763.6,368.5 771.0,367.8 778.4,367.0 785.8,364.9 793.2,364.9 800.5,371.4 807.9,367.3 815.3,372.1 822.7,373.1 830.1,364.2 837.4,363.4 844.8,371.4 852.2,384.0 859.6,382.3 867.0,371.9 874.3,370.5 881.7,351.4 889.1,353.1 896.5,348.3 903.9,353.8 911.2,364.5 918.6,359.9 926.0,364.5 933.4,364.5 940.8,366.4 948.1,369.3 955.5,356.7 962.9,364.5 970.3,359.2 977.7,351.4 985.0,345.9 992.4,377.8 999.8,375.5 1007.2,372.0 1014.6,370.0 1021.9,373.0 1029.3,386.0 1036.7,396.6 1044.1,395.8 1044.1,449.5" fill="#fbd5da" fill-opacity="0.7" clip-path="url(#cos)"/>
<polyline points="2.0,409.5 14.5,408.0 29.0,407.0 36.0,405.7 48.3,404.0 67.6,400.4 84.5,399.7 101.4,394.9 120.8,388.8 132.8,386.4 150.0,386.4 157.0,387.0 169.0,391.2 186.0,394.9 200.5,400.9 217.5,406.2 229.5,409.3 246.4,413.0 261.0,417.3 275.4,418.3 290.0,419.5 304.5,418.3 316.6,416.6 328.6,415.4 338.3,416.6 350.4,421.4 362.5,426.3 374.5,431.0 386.6,431.0 398.7,431.0 410.8,431.0 425.3,432.8 437.0,434.5 447.0,434.7 459.0,430.4 471.2,427.0 483.3,424.6 495.4,425.5 507.5,424.6 519.5,424.6 534.0,422.6 543.7,419.7 555.8,415.9 567.8,413.0 577.5,411.8 592.0,412.5 604.0,412.5 616.2,413.0 628.3,413.0 638.0,413.0 650.0,416.6 659.7,419.0 671.8,420.7 683.9,419.0 696.0,416.6 708.0,415.4 720.0,414.2 730.0,412.5 737.0,412.0 749.0,408.1 761.2,401.6 773.3,395.6 785.4,390.2 797.5,385.9 809.5,381.5 821.6,377.4 833.7,373.3 845.8,370.9 857.9,370.2 870.0,371.0 882.0,368.8 894.2,366.4 906.2,365.2 918.3,364.0 930.4,364.0 942.5,363.5 954.5,362.8 966.6,361.1 976.3,359.2 986.0,358.7 995.6,361.1 1005.3,362.8 1012.0,364.0 1024.0,366.4 1036.2,368.8 1044.0,370.9" fill="none" stroke="#f2d672" stroke-width="1.25"/>
<polyline points="3.5,423.0 10.9,413.5 18.3,413.7 25.6,414.0 33.0,414.2 40.4,404.5 47.8,387.0 55.2,389.5 62.5,375.0 69.9,374.3 77.3,391.2 84.7,388.3 92.1,375.5 99.4,387.0 106.8,386.0 114.2,383.5 121.6,384.0 129.0,395.6 136.3,398.5 143.7,402.0 151.1,390.7 158.5,387.1 165.9,399.7 173.2,408.0 180.6,421.0 188.0,404.5 195.4,418.3 202.8,422.1 210.1,422.0 217.5,422.0 224.9,422.6 232.3,423.0 239.7,416.6 247.0,425.0 254.4,412.2 261.8,418.3 269.2,413.0 276.6,412.5 283.9,419.7 291.3,421.4 298.7,423.0 306.1,414.2 313.5,403.8 320.8,416.6 328.2,413.7 335.6,416.6 343.0,438.3 350.4,449.2 357.7,461.3 365.1,457.7 372.5,458.4 379.9,445.6 387.3,403.8 394.6,429.4 402.0,425.0 409.4,412.5 416.8,415.0 424.2,423.8 431.5,425.5 438.9,439.5 446.3,444.4 453.7,427.0 461.1,424.6 468.4,431.0 475.8,419.7 483.2,418.5 490.6,423.8 498.0,417.8 505.3,421.4 512.7,406.2 520.1,415.0 527.5,415.0 534.9,416.1 542.2,407.0 549.6,401.4 557.0,401.6 564.4,404.0 571.8,402.8 579.1,416.6 586.5,422.6 593.9,423.8 601.3,422.6 608.7,408.1 616.0,419.7 623.4,416.6 630.8,413.0 638.2,415.0 645.6,435.4 652.9,431.1 660.3,440.7 667.7,410.0 675.1,420.2 682.5,405.7 689.8,399.0 697.2,405.2 704.6,402.1 712.0,405.7 719.4,404.0 726.7,400.0 734.1,402.3 741.5,399.2 748.9,399.2 756.3,388.3 763.6,368.5 771.0,367.8 778.4,367.0 785.8,364.9 793.2,364.9 800.5,371.4 807.9,367.3 815.3,372.1 822.7,373.1 830.1,364.2 837.4,363.4 844.8,371.4 852.2,384.0 859.6,382.3 867.0,371.9 874.3,370.5 881.7,351.4 889.1,353.1 896.5,348.3 903.9,353.8 911.2,364.5 918.6,359.9 926.0,364.5 933.4,364.5 940.8,366.4 948.1,369.3 955.5,356.7 962.9,364.5 970.3,359.2 977.7,351.4 985.0,345.9 992.4,377.8 999.8,375.5 1007.2,372.0 1014.6,370.0 1021.9,373.0 1029.3,386.0 1036.7,396.6 1044.1,395.8" fill="none" stroke="#7566c6" stroke-width="1.1" stroke-linejoin="round"/>
<text x="12" y="352.7" font-size="12.6" font-weight="normal" fill="#131722" textLength="17.5" lengthAdjust="spacingAndGlyphs" >RSI</text>
<text x="33.7" y="352.7" font-size="12.6" font-weight="normal" fill="#6a6d78" textLength="48.5" lengthAdjust="spacingAndGlyphs" >14 close</text>
<text x="91.5" y="352.7" font-size="12.6" font-weight="normal" fill="#8f7fd6" textLength="32.9" lengthAdjust="spacingAndGlyphs" >54.84</text>
<text x="131.6" y="352.7" font-size="12.6" font-weight="normal" fill="#f1d46d" textLength="32.6" lengthAdjust="spacingAndGlyphs" >66.42</text>
<text x="1131" y="347.0" font-size="12.8" font-weight="normal" fill="#131722" textLength="31.0" lengthAdjust="spacingAndGlyphs" >80.00</text>
<text x="1131" y="389.0" font-size="12.8" font-weight="normal" fill="#131722" textLength="31.0" lengthAdjust="spacingAndGlyphs" >60.00</text>
<text x="1131" y="432.0" font-size="12.8" font-weight="normal" fill="#131722" textLength="31.0" lengthAdjust="spacingAndGlyphs" >40.00</text>
<text x="1131" y="475.3" font-size="12.8" font-weight="normal" fill="#131722" textLength="31.0" lengthAdjust="spacingAndGlyphs" >20.00</text>
<rect x="1122.2" y="362.5" width="44.2" height="17" rx="1.5" fill="#f7cf39"/>
<text x="1131" y="375.8" font-size="12.8" font-weight="normal" fill="#131722" textLength="30.8" lengthAdjust="spacingAndGlyphs" >66.42</text>
<rect x="1122.2" y="388.3" width="44.2" height="16.7" rx="1.5" fill="#7654c6"/>
<text x="1131.8" y="400.7" font-size="12.8" font-weight="normal" fill="#ffffff" textLength="30.4" lengthAdjust="spacingAndGlyphs" >54.84</text>
<g stroke="#ffffff" stroke-width="3" stroke-linejoin="round" fill="#ffffff" opacity="0.9"><path d="M15 443.9h12.6v15.6h-6.4v-10h-6.2z"/><circle cx="32.8" cy="446.8" r="2.9"/><path d="M39.7 443.9h6.2l-5.3 15.6h-7.6z"/></g>
<g fill="#131722"><path d="M15 443.9h12.6v15.6h-6.4v-10h-6.2z"/><circle cx="32.8" cy="446.8" r="2.9"/><path d="M39.7 443.9h6.2l-5.3 15.6h-7.6z"/></g>
<text x="54" y="459.3" font-size="21.5" font-weight="bold" fill="#131722" textLength="126.8" lengthAdjust="spacingAndGlyphs" stroke="#ffffff" stroke-width="3" paint-order="stroke" stroke-opacity="0.9">TradingView</text>
</svg></body></html>
